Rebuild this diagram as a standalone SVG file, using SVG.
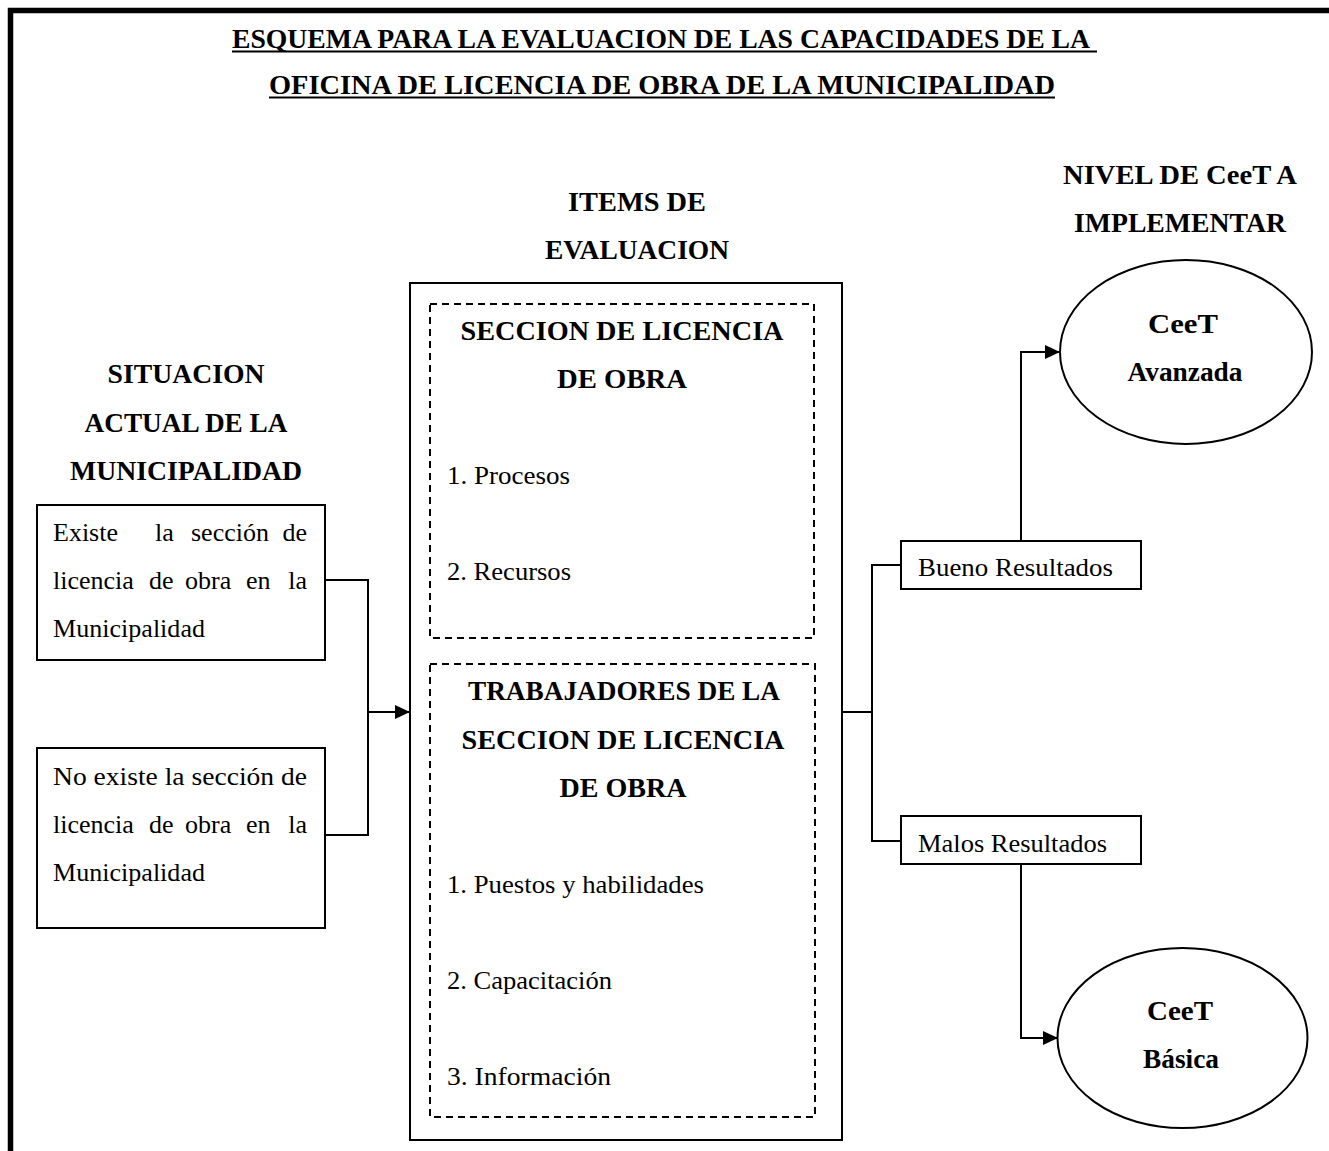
<svg xmlns="http://www.w3.org/2000/svg" width="1329" height="1151" viewBox="0 0 1329 1151">
<defs>
<style>
.t{font-family:"Liberation Serif","Times New Roman",serif;fill:#000}
.b{font-weight:bold;font-size:27px;text-anchor:middle}
.r{font-size:26px}
.box{fill:#fff;stroke:#000;stroke-width:2}
.dash{fill:none;stroke:#000;stroke-width:2;stroke-dasharray:7 5}
.ln{fill:none;stroke:#000;stroke-width:2}
</style>
<marker id="ah" markerUnits="userSpaceOnUse" markerWidth="16" markerHeight="14" refX="15" refY="7" orient="auto">
<path d="M0,0 L15,7 L0,14 Z" fill="#000"/>
</marker>
</defs>
<rect width="1329" height="1151" fill="#fff"/>
<path d="M10.5 1151 V10.5 H1329" fill="none" stroke="#000" stroke-width="5.5"/>

<g id="title">
<text class="t b" x="661" y="48" textLength="858" lengthAdjust="spacingAndGlyphs">ESQUEMA PARA LA EVALUACION DE LAS CAPACIDADES DE LA</text>
<line x1="232" y1="51.5" x2="1097" y2="51.5" stroke="#000" stroke-width="2"/>
<text class="t b" x="662" y="94" textLength="786" lengthAdjust="spacingAndGlyphs">OFICINA DE LICENCIA DE OBRA DE LA MUNICIPALIDAD</text>
<line x1="269" y1="97.5" x2="1055" y2="97.5" stroke="#000" stroke-width="2"/>
</g>

<g id="header-situacion">
<text class="t b" x="186" y="383" textLength="157" lengthAdjust="spacingAndGlyphs">SITUACION</text>
<text class="t b" x="186" y="432" textLength="203" lengthAdjust="spacingAndGlyphs">ACTUAL DE LA</text>
<text class="t b" x="186" y="480" textLength="232" lengthAdjust="spacingAndGlyphs">MUNICIPALIDAD</text>
</g>

<g id="header-items">
<text class="t b" x="637" y="211" textLength="138" lengthAdjust="spacingAndGlyphs">ITEMS DE</text>
<text class="t b" x="637" y="259" textLength="184" lengthAdjust="spacingAndGlyphs">EVALUACION</text>
</g>

<g id="header-nivel">
<text class="t b" x="1180" y="184" textLength="234" lengthAdjust="spacingAndGlyphs">NIVEL DE CeeT A</text>
<text class="t b" x="1180" y="232" textLength="212" lengthAdjust="spacingAndGlyphs">IMPLEMENTAR</text>
</g>

<g id="connectors">
<polyline class="ln" points="325,580 368,580 368,835 325,835"/>
<line class="ln" x1="368" y1="712" x2="410" y2="712" marker-end="url(#ah)"/>
<line class="ln" x1="842" y1="712" x2="872" y2="712"/>
<polyline class="ln" points="901,565 872,565 872,841 901,841"/>
<polyline class="ln" points="1021,541 1021,352 1060,352" marker-end="url(#ah)"/>
<polyline class="ln" points="1021,864 1021,1038 1058,1038" marker-end="url(#ah)"/>
</g>

<g id="node-existe">
<rect class="box" x="37" y="505" width="288" height="155"/>
<text class="t r" y="541"><tspan x="53">Existe</tspan><tspan x="155">la</tspan><tspan x="191">sección</tspan><tspan x="307" text-anchor="end">de</tspan></text>
<text class="t r" y="589"><tspan x="53">licencia</tspan><tspan x="149">de</tspan><tspan x="185">obra</tspan><tspan x="246">en</tspan><tspan x="307" text-anchor="end">la</tspan></text>
<text class="t r" x="53" y="637" textLength="152" lengthAdjust="spacingAndGlyphs">Municipalidad</text>
</g>

<g id="node-noexiste">
<rect class="box" x="37" y="748" width="288" height="180"/>
<text class="t r" x="53" y="785" textLength="254" lengthAdjust="spacingAndGlyphs">No existe la sección de</text>
<text class="t r" y="833"><tspan x="53">licencia</tspan><tspan x="149">de</tspan><tspan x="185">obra</tspan><tspan x="246">en</tspan><tspan x="307" text-anchor="end">la</tspan></text>
<text class="t r" x="53" y="881" textLength="152" lengthAdjust="spacingAndGlyphs">Municipalidad</text>
</g>

<g id="node-items">
<rect class="box" x="410" y="283" width="432" height="857"/>
<rect class="dash" x="430" y="304" width="384" height="334"/>
<text class="t b" x="622" y="340" textLength="323" lengthAdjust="spacingAndGlyphs">SECCION DE LICENCIA</text>
<text class="t b" x="622" y="388" textLength="130" lengthAdjust="spacingAndGlyphs">DE OBRA</text>
<text class="t r" x="447" y="484" textLength="123" lengthAdjust="spacingAndGlyphs">1. Procesos</text>
<text class="t r" x="447" y="580" textLength="124" lengthAdjust="spacingAndGlyphs">2. Recursos</text>
<rect class="dash" x="430" y="664" width="385" height="453"/>
<text class="t b" x="624" y="700" textLength="312" lengthAdjust="spacingAndGlyphs">TRABAJADORES DE LA</text>
<text class="t b" x="623" y="749" textLength="323" lengthAdjust="spacingAndGlyphs">SECCION DE LICENCIA</text>
<text class="t b" x="623" y="797" textLength="127" lengthAdjust="spacingAndGlyphs">DE OBRA</text>
<text class="t r" x="447" y="893" textLength="257" lengthAdjust="spacingAndGlyphs">1. Puestos y habilidades</text>
<text class="t r" x="447" y="989" textLength="165" lengthAdjust="spacingAndGlyphs">2. Capacitación</text>
<text class="t r" x="447" y="1085" textLength="164" lengthAdjust="spacingAndGlyphs">3. Información</text>
</g>

<g id="node-bueno">
<rect class="box" x="901" y="541" width="240" height="48"/>
<text class="t r" x="918" y="576" textLength="195" lengthAdjust="spacingAndGlyphs">Bueno Resultados</text>
</g>

<g id="node-malos">
<rect class="box" x="901" y="816" width="240" height="48"/>
<text class="t r" x="918" y="852" textLength="189" lengthAdjust="spacingAndGlyphs">Malos Resultados</text>
</g>

<g id="node-avanzada">
<ellipse class="box" cx="1186" cy="352" rx="126" ry="92"/>
<text class="t b" x="1183" y="333" textLength="70" lengthAdjust="spacingAndGlyphs">CeeT</text>
<text class="t b" x="1185" y="381" textLength="115" lengthAdjust="spacingAndGlyphs">Avanzada</text>
</g>

<g id="node-basica">
<ellipse class="box" cx="1182.5" cy="1038" rx="125" ry="90"/>
<text class="t b" x="1180" y="1020" textLength="66" lengthAdjust="spacingAndGlyphs">CeeT</text>
<text class="t b" x="1181" y="1068" textLength="76" lengthAdjust="spacingAndGlyphs">Básica</text>
</g>
</svg>
